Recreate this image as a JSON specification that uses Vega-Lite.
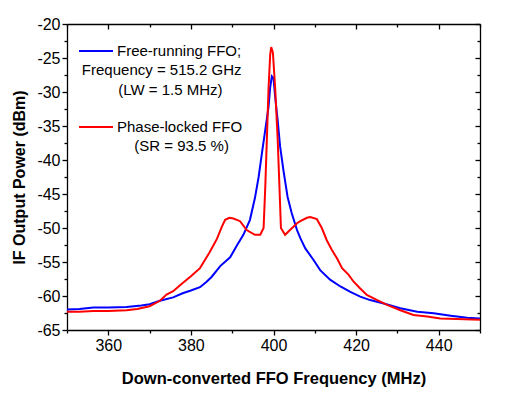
{
  "$schema": "https://vega.github.io/schema/vega-lite/v6.json",
  "width": 413,
  "height": 306,
  "autosize": {"type": "none"},
  "padding": {"left": 67, "top": 24, "right": 25, "bottom": 69},
  "background": "white",
  "config": {
    "view": {"stroke": null},
    "font": "Liberation Sans",
    "axis": {"domainColor": "black", "tickColor": "black", "labelColor": "black", "titleColor": "black", "grid": false, "domainWidth": 1.3, "tickWidth": 1.3, "labelFont": "Liberation Sans", "titleFont": "Liberation Sans", "labelFlush": false, "labelOverlap": false},
    "legend": {"labelFont": "Liberation Sans", "labelColor": "black"}
  },
  "datasets": {
    "curves": [
      {"f": 350, "p": -62.0, "series": "Free-running FFO;"},
      {"f": 353, "p": -61.9, "series": "Free-running FFO;"},
      {"f": 356.4, "p": -61.7, "series": "Free-running FFO;"},
      {"f": 360, "p": -61.7, "series": "Free-running FFO;"},
      {"f": 364.4, "p": -61.6, "series": "Free-running FFO;"},
      {"f": 368, "p": -61.4, "series": "Free-running FFO;"},
      {"f": 370, "p": -61.2, "series": "Free-running FFO;"},
      {"f": 372.5, "p": -60.7, "series": "Free-running FFO;"},
      {"f": 375.7, "p": -60.2, "series": "Free-running FFO;"},
      {"f": 378, "p": -59.6, "series": "Free-running FFO;"},
      {"f": 380, "p": -59.2, "series": "Free-running FFO;"},
      {"f": 382.2, "p": -58.7, "series": "Free-running FFO;"},
      {"f": 383.8, "p": -57.9, "series": "Free-running FFO;"},
      {"f": 385, "p": -57.2, "series": "Free-running FFO;"},
      {"f": 387.1, "p": -55.6, "series": "Free-running FFO;"},
      {"f": 389.5, "p": -54.3, "series": "Free-running FFO;"},
      {"f": 391.1, "p": -52.6, "series": "Free-running FFO;"},
      {"f": 392.7, "p": -51.0, "series": "Free-running FFO;"},
      {"f": 394.3, "p": -48.8, "series": "Free-running FFO;"},
      {"f": 395.5, "p": -45.6, "series": "Free-running FFO;"},
      {"f": 396.4, "p": -42.5, "series": "Free-running FFO;"},
      {"f": 397.2, "p": -39.0, "series": "Free-running FFO;"},
      {"f": 398.0, "p": -35.6, "series": "Free-running FFO;"},
      {"f": 398.8, "p": -32.2, "series": "Free-running FFO;"},
      {"f": 399.2, "p": -29.3, "series": "Free-running FFO;"},
      {"f": 399.6, "p": -27.7, "series": "Free-running FFO;"},
      {"f": 400.0, "p": -28.0, "series": "Free-running FFO;"},
      {"f": 400.4, "p": -30.7, "series": "Free-running FFO;"},
      {"f": 401.0, "p": -34.1, "series": "Free-running FFO;"},
      {"f": 401.6, "p": -38.0, "series": "Free-running FFO;"},
      {"f": 402.4, "p": -41.5, "series": "Free-running FFO;"},
      {"f": 403.4, "p": -45.4, "series": "Free-running FFO;"},
      {"f": 404.4, "p": -47.8, "series": "Free-running FFO;"},
      {"f": 405.7, "p": -50.3, "series": "Free-running FFO;"},
      {"f": 406.5, "p": -51.5, "series": "Free-running FFO;"},
      {"f": 407.7, "p": -53.0, "series": "Free-running FFO;"},
      {"f": 409.7, "p": -54.7, "series": "Free-running FFO;"},
      {"f": 411.3, "p": -56.2, "series": "Free-running FFO;"},
      {"f": 413.7, "p": -57.6, "series": "Free-running FFO;"},
      {"f": 416.2, "p": -58.6, "series": "Free-running FFO;"},
      {"f": 418.6, "p": -59.4, "series": "Free-running FFO;"},
      {"f": 421, "p": -60.1, "series": "Free-running FFO;"},
      {"f": 423.4, "p": -60.6, "series": "Free-running FFO;"},
      {"f": 426.7, "p": -61.1, "series": "Free-running FFO;"},
      {"f": 430.7, "p": -61.8, "series": "Free-running FFO;"},
      {"f": 434.8, "p": -62.3, "series": "Free-running FFO;"},
      {"f": 438.8, "p": -62.55, "series": "Free-running FFO;"},
      {"f": 442.9, "p": -62.9, "series": "Free-running FFO;"},
      {"f": 446.9, "p": -63.2, "series": "Free-running FFO;"},
      {"f": 450, "p": -63.3, "series": "Free-running FFO;"},
      {"f": 350, "p": -62.3, "series": "Phase-locked FFO"},
      {"f": 353, "p": -62.3, "series": "Phase-locked FFO"},
      {"f": 356.4, "p": -62.2, "series": "Phase-locked FFO"},
      {"f": 360, "p": -62.2, "series": "Phase-locked FFO"},
      {"f": 364.4, "p": -62.1, "series": "Phase-locked FFO"},
      {"f": 367, "p": -61.9, "series": "Phase-locked FFO"},
      {"f": 370, "p": -61.5, "series": "Phase-locked FFO"},
      {"f": 372.5, "p": -60.7, "series": "Phase-locked FFO"},
      {"f": 374.1, "p": -59.8, "series": "Phase-locked FFO"},
      {"f": 375.7, "p": -59.3, "series": "Phase-locked FFO"},
      {"f": 377.8, "p": -58.2, "series": "Phase-locked FFO"},
      {"f": 380, "p": -57.1, "series": "Phase-locked FFO"},
      {"f": 382.2, "p": -55.9, "series": "Phase-locked FFO"},
      {"f": 384.5, "p": -53.6, "series": "Phase-locked FFO"},
      {"f": 385.4, "p": -52.6, "series": "Phase-locked FFO"},
      {"f": 386.3, "p": -51.6, "series": "Phase-locked FFO"},
      {"f": 387.5, "p": -49.8, "series": "Phase-locked FFO"},
      {"f": 388.3, "p": -48.8, "series": "Phase-locked FFO"},
      {"f": 389.3, "p": -48.5, "series": "Phase-locked FFO"},
      {"f": 390.3, "p": -48.6, "series": "Phase-locked FFO"},
      {"f": 391.9, "p": -49.0, "series": "Phase-locked FFO"},
      {"f": 393.5, "p": -50.3, "series": "Phase-locked FFO"},
      {"f": 395.5, "p": -51.0, "series": "Phase-locked FFO"},
      {"f": 396.8, "p": -51.0, "series": "Phase-locked FFO"},
      {"f": 397.6, "p": -50.0, "series": "Phase-locked FFO"},
      {"f": 398.0, "p": -44.1, "series": "Phase-locked FFO"},
      {"f": 398.4, "p": -36.8, "series": "Phase-locked FFO"},
      {"f": 398.8, "p": -29.4, "series": "Phase-locked FFO"},
      {"f": 399.2, "p": -24.5, "series": "Phase-locked FFO"},
      {"f": 399.45, "p": -23.4, "series": "Phase-locked FFO"},
      {"f": 399.85, "p": -24.2, "series": "Phase-locked FFO"},
      {"f": 400.4, "p": -29.4, "series": "Phase-locked FFO"},
      {"f": 401.0, "p": -36.8, "series": "Phase-locked FFO"},
      {"f": 401.45, "p": -44.1, "series": "Phase-locked FFO"},
      {"f": 401.8, "p": -50.0, "series": "Phase-locked FFO"},
      {"f": 402.8, "p": -51.0, "series": "Phase-locked FFO"},
      {"f": 404.0, "p": -50.3, "series": "Phase-locked FFO"},
      {"f": 405.7, "p": -49.3, "series": "Phase-locked FFO"},
      {"f": 406.5, "p": -49.0, "series": "Phase-locked FFO"},
      {"f": 408.1, "p": -48.5, "series": "Phase-locked FFO"},
      {"f": 408.9, "p": -48.4, "series": "Phase-locked FFO"},
      {"f": 410.5, "p": -48.7, "series": "Phase-locked FFO"},
      {"f": 411.7, "p": -50.0, "series": "Phase-locked FFO"},
      {"f": 412.9, "p": -51.8, "series": "Phase-locked FFO"},
      {"f": 414.1, "p": -53.2, "series": "Phase-locked FFO"},
      {"f": 415.4, "p": -54.5, "series": "Phase-locked FFO"},
      {"f": 416.6, "p": -55.9, "series": "Phase-locked FFO"},
      {"f": 418.2, "p": -56.9, "series": "Phase-locked FFO"},
      {"f": 419.4, "p": -57.9, "series": "Phase-locked FFO"},
      {"f": 421.0, "p": -58.9, "series": "Phase-locked FFO"},
      {"f": 422.6, "p": -59.85, "series": "Phase-locked FFO"},
      {"f": 425.1, "p": -60.6, "series": "Phase-locked FFO"},
      {"f": 427.5, "p": -61.3, "series": "Phase-locked FFO"},
      {"f": 430.7, "p": -62.1, "series": "Phase-locked FFO"},
      {"f": 433.9, "p": -62.8, "series": "Phase-locked FFO"},
      {"f": 437.2, "p": -63.0, "series": "Phase-locked FFO"},
      {"f": 440.4, "p": -63.3, "series": "Phase-locked FFO"},
      {"f": 444.5, "p": -63.4, "series": "Phase-locked FFO"},
      {"f": 450, "p": -63.5, "series": "Phase-locked FFO"}
    ]
  },
  "layer": [
    {
      "data": {"name": "curves"},
      "mark": {"type": "line", "strokeWidth": 2},
      "encoding": {
        "x": {
          "field": "f", "type": "quantitative",
          "scale": {"domain": [350, 450], "nice": false, "zero": false},
          "axis": {
            "orient": "bottom",
            "values": [350, 360, 370, 380, 390, 400, 410, 420, 430, 440, 450],
            "labelExpr": "datum.value % 20 === 0 && datum.value > 350 && datum.value < 450 ? datum.label : ''",
            "tickSize": {"condition": {"test": "datum.value % 20 === 0", "value": 5}, "value": 3},
            "labelFontSize": 16,
            "labelPadding": 2,
            "title": "Down-converted FFO Frequency (MHz)",
            "titleFontSize": 16.5,
            "titleFontWeight": "bold",
            "titleY": 48,
            "titleBaseline": "middle"
          }
        },
        "y": {
          "field": "p", "type": "quantitative",
          "scale": {"domain": [-65, -20], "nice": false, "zero": false},
          "axis": {
            "orient": "left",
            "values": [-65, -62.5, -60, -57.5, -55, -52.5, -50, -47.5, -45, -42.5, -40, -37.5, -35, -32.5, -30, -27.5, -25, -22.5, -20],
            "labelExpr": "datum.value % 5 === 0 ? '' + datum.value : ''",
            "tickSize": {"condition": {"test": "datum.value % 5 === 0", "value": 5}, "value": 3},
            "labelFontSize": 16,
            "labelPadding": 2,
            "title": "IF Output Power (dBm)",
            "titleFontSize": 16,
            "titleFontWeight": "bold",
            "titleX": -48,
            "titleBaseline": "middle"
          }
        },
        "color": {
          "field": "series", "type": "nominal",
          "scale": {"domain": ["Free-running FFO;", "Phase-locked FFO"], "range": ["#0000ff", "#ff0000"]},
          "legend": {
            "orient": "none",
            "legendX": 11,
            "legendY": 9,
            "title": null,
            "symbolType": "stroke",
            "symbolSize": 1156,
            "symbolStrokeWidth": 2,
            "labelFontSize": 15,
            "labelOffset": 3,
            "rowPadding": 50,
            "padding": 0
          }
        }
      }
    },
    {
      "data": {"name": "curves"},
      "mark": {"type": "line", "strokeOpacity": 0},
      "encoding": {
        "x": {
          "field": "f", "type": "quantitative",
          "axis": {
            "orient": "top",
            "values": [350, 360, 370, 380, 390, 400, 410, 420, 430, 440, 450],
            "labels": false,
            "title": null,
            "tickSize": {"condition": {"test": "datum.value % 20 === 0", "value": -5}, "value": -3}
          }
        },
        "y": {
          "field": "p", "type": "quantitative",
          "axis": {
            "orient": "right",
            "values": [-65, -62.5, -60, -57.5, -55, -52.5, -50, -47.5, -45, -42.5, -40, -37.5, -35, -32.5, -30, -27.5, -25, -22.5, -20],
            "labels": false,
            "title": null,
            "tickSize": {"condition": {"test": "datum.value % 5 === 0", "value": -5}, "value": -3}
          }
        },
        "detail": {"field": "series", "type": "nominal"}
      }
    },
    {
      "data": {"values": [
        {"x": 353.6, "y": -26.76, "t": "Frequency = 515.2 GHz"},
        {"x": 362.4, "y": -29.7, "t": "(LW = 1.5 MHz)"},
        {"x": 366.3, "y": -37.9, "t": "(SR = 93.5 %)"}
      ]},
      "mark": {"type": "text", "align": "left", "baseline": "middle", "fontSize": 15, "color": "black", "font": "Liberation Sans"},
      "encoding": {
        "x": {"field": "x", "type": "quantitative", "axis": null},
        "y": {"field": "y", "type": "quantitative", "axis": null},
        "text": {"field": "t"}
      }
    }
  ],
  "resolve": {"axis": {"x": "independent", "y": "independent"}}
}
